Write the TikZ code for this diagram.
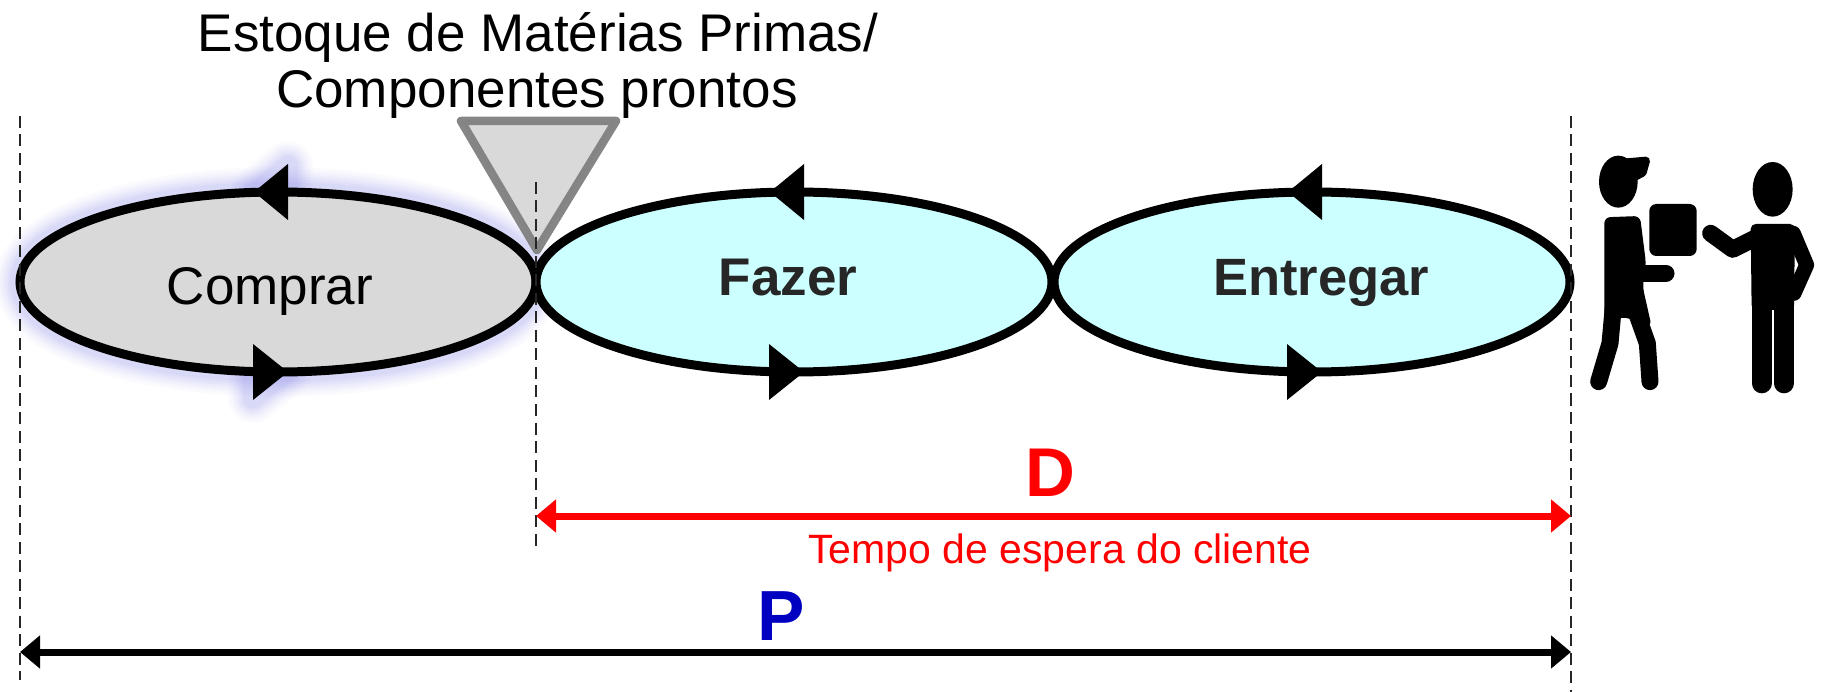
\documentclass[tikz,border=0pt]{standalone}
\usepackage{fontspec}
\setmainfont{Liberation Sans}
\usetikzlibrary{shapes.geometric,arrows.meta}
\definecolor{glow}{RGB}{130,130,230}
\definecolor{lightcyan}{RGB}{204,255,255}
\definecolor{softgray}{RGB}{217,217,217}
\definecolor{deepblue}{RGB}{0,0,192}
\definecolor{darktext}{RGB}{38,38,38}
\tikzset{
  x=1pt,y=-1pt,
  loop/.style={ellipse,draw=black,line width=9pt,minimum width=516pt,minimum height=180pt,inner sep=0pt,outer sep=0pt},
  guide/.style={draw=black!85,line width=2pt,dash pattern=on 12pt off 6.5pt},
  span/.style={line width=7pt,{Triangle[length=20pt,width=32pt]}-{Triangle[length=20pt,width=32pt]}},
  flowtip/.style={fill=black,draw=none},
  lbl/.style={inner sep=0pt,outer sep=0pt,anchor=base},
  icon/.style={fill=black,draw=black,line join=round,line cap=round},
  limb/.style={draw=black,line join=round,line cap=round}
}
\begin{document}
\begin{tikzpicture}
\useasboundingbox (0,0) rectangle (1823,692);
% glow of Comprar
\foreach \w/\o in {50/0.03,45/0.035,40/0.04,35/0.05,30/0.06,25/0.07,20/0.08}{
  \draw[glow,line width=\w pt,opacity=\o,line join=round] (278,282) ellipse [x radius=258,y radius=90];
  \draw[glow,fill=glow,line width=\w pt,opacity=\o,line join=round] (256,192)--(288,166)--(288,218)--cycle;
  \draw[glow,fill=glow,line width=\w pt,opacity=\o,line join=round] (286,372)--(253,346)--(253,398)--cycle;
}
% loops
\node[loop,fill=softgray] (comprar) at (278,282) {};
\node[loop,fill=lightcyan] (fazer) at (794,282) {};
\node[loop,fill=lightcyan] (entregar) at (1312,282) {};
% flow tips
\foreach \n/\c in {a/278,b/794,c/1312}{
  \fill[flowtip] (\c-24,192)--(\c+10,164)--(\c+10,220)--cycle;
  \fill[flowtip] (\c+10,372)--(\c-25,344)--(\c-25,400)--cycle;
}
% stock triangle
\fill[softgray] (461,121)--(616,121)--(537,250)--cycle;
\draw[gray,line width=8.5pt,line join=round,opacity=.95] (461,121)--(616,121)--(537,250)--cycle;
% guides
\coordinate (g1a) at (20,116); \coordinate (g1b) at (20,680);
\coordinate (g2a) at (536,182); \coordinate (g2b) at (536,547);
\coordinate (g3a) at (1571,116); \coordinate (g3b) at (1571,692);
\draw[guide] (g1a)--(g1b);
\draw[guide] (g2a)--(g2b);
\draw[guide] (g3a)--(g3b);
% spans
\coordinate (d1) at (536,516); \coordinate (d2) at (1571,516);
\coordinate (p1) at (20,652); \coordinate (p2) at (1571,652);
\draw[span,red] (d1)--(d2);
\draw[span,black] (p1)--(p2);
% labels
\node[lbl] (t1) at (538,52) {\fontsize{53}{56}\selectfont Estoque de Matérias Primas/};
\node[lbl] (t2) at (537,108) {\fontsize{53}{56}\selectfont Componentes prontos};
\node[lbl] (t3) at (270,305) {\fontsize{53}{56}\selectfont Comprar};
\node[lbl,text=darktext] (t4) at (788,296) {\fontsize{53}{56}\selectfont\bfseries Fazer};
\node[lbl,text=darktext] (t5) at (1321,296) {\fontsize{52.5}{56}\selectfont\bfseries Entregar};
\node[lbl,text=red] (t6) at (1050,496) {\fontsize{69}{70}\selectfont\bfseries D};
\node[lbl,text=red] (t7) at (1060,563) {\fontsize{41}{46}\selectfont Tempo de espera do cliente};
\node[lbl,text=deepblue] (t8) at (781,640) {\fontsize{71}{70}\selectfont\bfseries P};
% people
\begin{scope}[shift={(1560,130)},x=0.3333pt,y=-0.3333pt]
  % delivery man
  \fill[black] (175,155) ellipse [x radius=58,y radius=78];
  \draw[icon,line width=8pt] (190,98)--(258,92)--(248,128)--(222,142)--cycle;
  \fill[black,rounded corners=6pt] (133,262)--(240,258)--(258,400)--(248,470)--(275,590)--(190,560)--(133,580)--(133,400)--cycle;
  \draw[limb,line width=17pt] (318,430)--(245,430);
  \fill[black,rounded corners=7pt] (268,222) rectangle (410,378);
  \draw[limb,line width=17pt] (160,530)--(150,640)--(116,755);
  \draw[limb,line width=17pt] (212,500)--(262,640)--(270,755);
  % customer
  \fill[black] (638,178) ellipse [x radius=60,y radius=82];
  \fill[black,rounded corners=5pt] (572,282)--(705,282)--(702,540)--(575,540)--cycle;
  \draw[limb,line width=17pt] (452,310)--(518,358)--(590,322);
  \draw[limb,line width=15pt] (700,310)--(740,405)--(702,490);
  \draw[limb,line width=20pt] (605,530)--(605,760);
  \draw[limb,line width=20pt] (672,530)--(672,760);
\end{scope}
\end{tikzpicture}
\end{document}
